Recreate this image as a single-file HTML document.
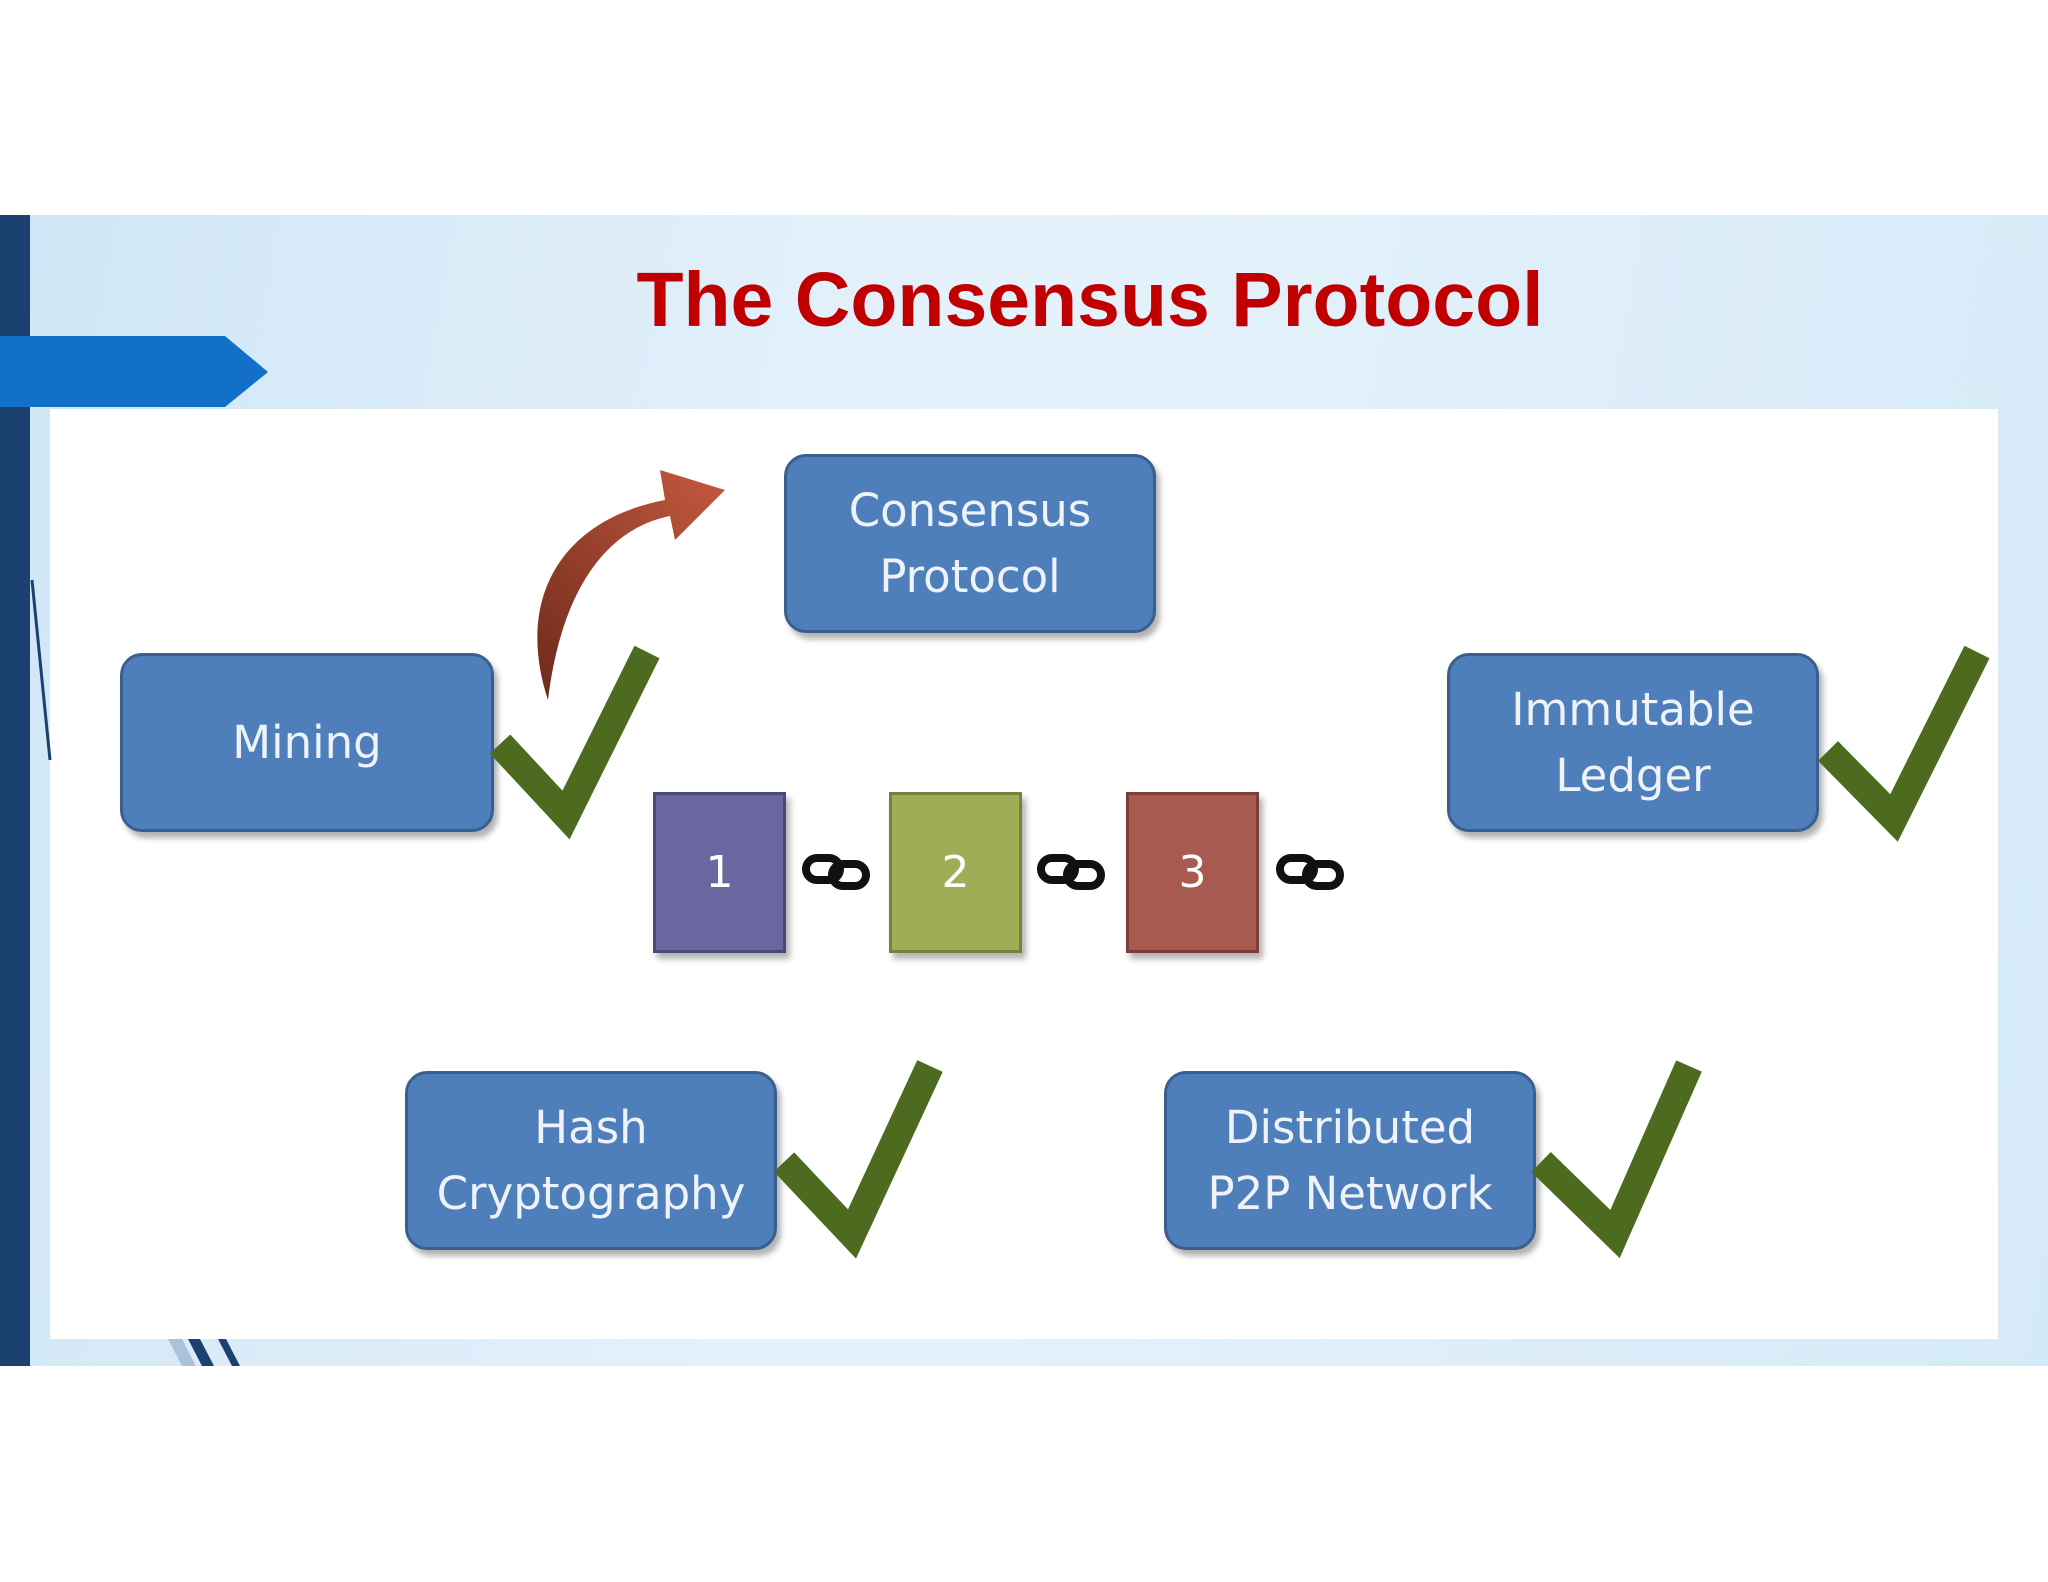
<!DOCTYPE html>
<html><head><meta charset="utf-8"><style>
body{margin:0;width:2048px;height:1582px;background:#fff;position:relative;overflow:hidden;font-family:"Liberation Sans",sans-serif}
.band{position:absolute;left:0;top:215px;width:2048px;height:1151px;background:linear-gradient(100deg,#cfe6f6 0%,#e6f2fb 45%,#d5eaf8 100%)}
.dark{position:absolute;left:0;top:215px;width:30px;height:1151px;background:#1a4170}
.panel{position:absolute;left:50px;top:409px;width:1948px;height:930px;background:#fff}
.title{position:absolute;left:0;width:2180px;top:256px;text-align:center;font-weight:bold;font-size:77px;color:#c00000}
.box{position:absolute;background:#4f7fbb;border:3px solid #3a5f8e;border-radius:22px;box-shadow:4px 6px 6px rgba(0,0,0,.3);color:#eef3fa;font-family:"DejaVu Sans",sans-serif;font-size:45px;display:flex;align-items:center;justify-content:center;text-align:center;line-height:66px;box-sizing:border-box}
.sq{position:absolute;top:792px;width:133px;height:161px;box-shadow:4px 6px 6px rgba(0,0,0,.3);color:#fff;font-family:"DejaVu Sans",sans-serif;font-size:44px;display:flex;align-items:center;justify-content:center;box-sizing:border-box}
</style></head><body>
<div class="band"></div>
<div class="dark"></div>
<div class="panel"></div>
<svg width="2048" height="1582" style="position:absolute;left:0;top:0">
<polygon points="0,336 225,336 268,372 225,407 0,407" fill="#1270c8"/>
<polygon points="168,1339 182,1339 196,1366 182,1366" fill="#a9c3da"/>
<polygon points="188,1339 200,1339 214,1366 202,1366" fill="#1a4170"/>
<polygon points="218,1339 226,1339 240,1366 232,1366" fill="#1a4170"/>
<line x1="32" y1="580" x2="50" y2="760" stroke="#1a4170" stroke-width="3"/>
</svg>
<div class="title">The Consensus Protocol</div>
<div class="box" style="left:784px;top:454px;width:372px;height:179px">Consensus<br>Protocol</div>
<div class="box" style="left:120px;top:653px;width:374px;height:179px">Mining</div>
<div class="box" style="left:1447px;top:653px;width:372px;height:179px">Immutable<br>Ledger</div>
<div class="box" style="left:405px;top:1071px;width:372px;height:179px">Hash<br>Cryptography</div>
<div class="box" style="left:1164px;top:1071px;width:372px;height:179px">Distributed<br>P2P Network</div>
<div class="sq" style="left:653px;background:#6a67a0;border:3px solid #4a4878">1</div>
<div class="sq" style="left:889px;background:#9fae56;border:3px solid #75823b">2</div>
<div class="sq" style="left:1126px;background:#a85a50;border:3px solid #7a3e36">3</div>
<svg width="2048" height="1582" style="position:absolute;left:0;top:0">
<defs><linearGradient id="ag" x1="0" y1="1" x2="1" y2="0"><stop offset="0" stop-color="#6e2a1c"/><stop offset="1" stop-color="#c55a3f"/></linearGradient></defs>
<path d="M548,700 C515,600 560,520 665,500 L660,470 L725,490 L675,540 L670,516 C600,530 560,600 548,700 Z" fill="url(#ag)"/>
<g fill="none" stroke="#4c6b1f" stroke-width="28" stroke-linejoin="miter">
<polyline points="500,744 566,815 647,652"/>
<polyline points="1828,751 1894,818 1977,652"/>
<polyline points="784,1162 852,1234 930,1066"/>
<polyline points="1541,1162 1615,1234 1689,1066"/>
</g>
<g fill="none" stroke="#111" stroke-width="8">
<g transform="translate(836,872)"><rect x="-30" y="-14" width="34" height="22" rx="11"/><rect x="-4" y="-8" width="34" height="22" rx="11"/></g>
<g transform="translate(1071,872)"><rect x="-30" y="-14" width="34" height="22" rx="11"/><rect x="-4" y="-8" width="34" height="22" rx="11"/></g>
<g transform="translate(1310,872)"><rect x="-30" y="-14" width="34" height="22" rx="11"/><rect x="-4" y="-8" width="34" height="22" rx="11"/></g>
</g>
</svg>
</body></html>
